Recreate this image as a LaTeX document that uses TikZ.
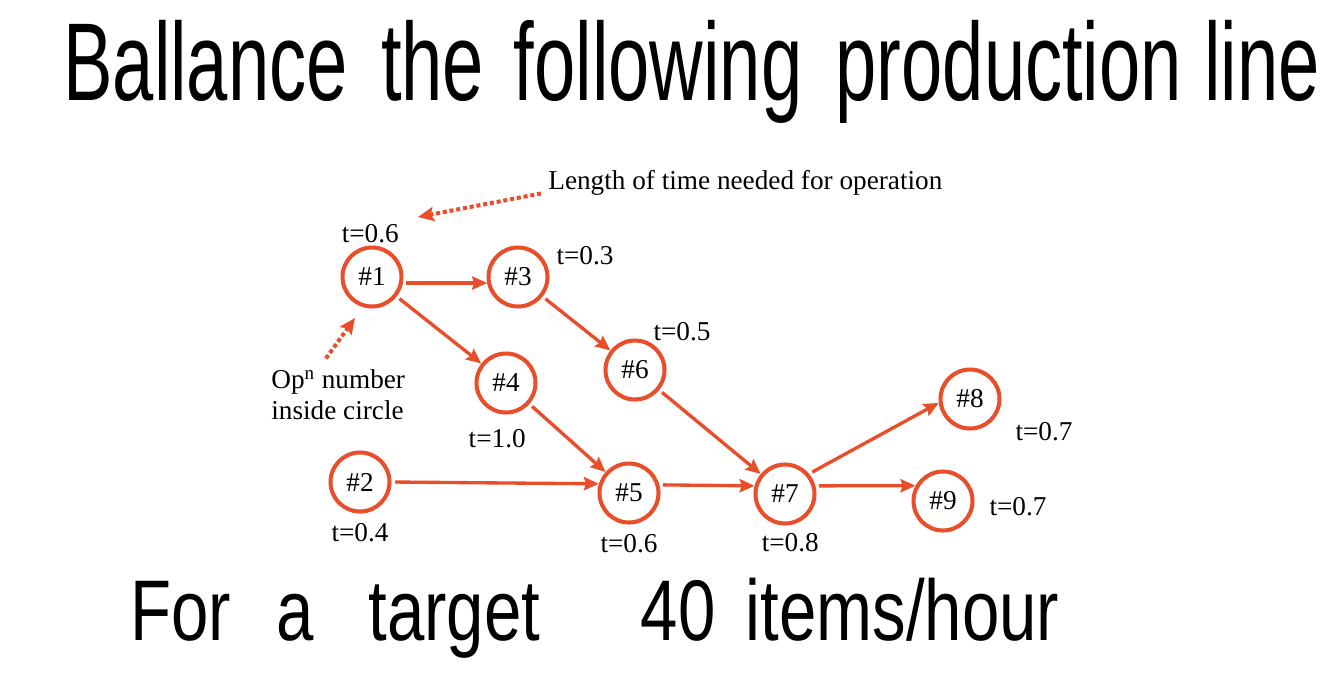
\documentclass[tikz,border=0pt]{standalone}
\usepackage{fontspec}
\setmainfont{Liberation Serif}
\newfontfamily\handfont{Liberation Sans}
\usetikzlibrary{arrows.meta,positioning}
\definecolor{opred}{RGB}{233,77,42}

\begin{document}
\begin{tikzpicture}[
    x=0.02cm, y=-0.02cm,
    op/.style={circle, draw=opred, line width=2.3pt, minimum size=1.18cm, inner sep=0pt, font=\fontsize{15.5}{18}\selectfont},
    tlabel/.style={inner sep=1pt, font=\fontsize{15.5}{18}\selectfont},
    flow/.style={draw=opred, line width=1.9pt, shorten <=2pt, -{Stealth[length=8.5pt, width=7.5pt, inset=1.2pt]}},
    hint/.style={draw=opred, line width=2.3pt, dash pattern=on 2.3pt off 1.6pt, -{Stealth[length=9pt, width=8pt, inset=1.5pt]}},
    hand/.style={inner sep=0pt, anchor=base west}
  ]
  \useasboundingbox (0,0) rectangle (1334,673);

  % handwritten heading and target
  \node[hand] (title) at (63,100) {\scalebox{0.67}[1]{\handfont\fontsize{63}{70}\selectfont Ballance\hspace{0.45em}the\hspace{0.4em}following\hspace{0.45em}production\hspace{0.3em}line}};
  \node[hand] (target) at (130,640) {\scalebox{0.78}[1]{\handfont\fontsize{49}{55}\selectfont For\hspace{0.67em}a\hspace{0.82em}target\hspace{1.5em}40\hspace{0.45em}items/hour}};

  % operations
  \node[op] (op1) at (372,277) {\#1};
  \node[op] (op3) at (518,277) {\#3};
  \node[op] (op4) at (506,383) {\#4};
  \node[op] (op6) at (635,370) {\#6};
  \node[op] (op2) at (360,482) {\#2};
  \node[op] (op5) at (629,493) {\#5};
  \node[op] (op7) at (785,494) {\#7};
  \node[op] (op8) at (970,399) {\#8};
  \node[op] (op9) at (943,501) {\#9};

  % times
  \node[tlabel, above=0pt of op1, xshift=-1pt] (t1) {t=0.6};
  \node[tlabel] (t3) at (585,256) {t=0.3};
  \node[tlabel] (t6) at (682,332) {t=0.5};
  \node[tlabel, below=7.4pt of op4, xshift=-5pt] (t4) {t=1.0};
  \node[tlabel, below=4.5pt of op2] (t2) {t=0.4};
  \node[tlabel, below=4.5pt of op5] (t5) {t=0.6};
  \node[tlabel, below=3.4pt of op7, xshift=3pt] (t7) {t=0.8};
  \node[tlabel] (t8) at (1044,432) {t=0.7};
  \node[tlabel] (t9) at (1018,507) {t=0.7};

  % notes
  \node[tlabel, anchor=base west, inner sep=0pt] (lenlbl) at (548,189) {Length of time needed for operation};
  \node[tlabel, anchor=north west, inner sep=0pt, align=left] (oplbl) at (271,369) {Op\textsuperscript{n} number\\inside circle};
  \coordinate (timetip) at (418,217);
  \coordinate (optip) at (355,318);

  \draw[hint] ([xshift=-4pt, yshift=1pt]lenlbl.south west) -- (timetip);
  \draw[hint] ([xshift=-7pt, yshift=6pt]oplbl.north) -- (optip);

  % precedence
  \draw[flow] (op1.-11) -- (op3.191);
  \draw[flow] (op1) -- (op4);
  \draw[flow] (op3) -- (op6);
  \draw[flow] (op4) -- (op5);
  \draw[flow] (op2.east) -- (op5.163);
  \draw[flow] (op6) -- (op7);
  \draw[flow] (op5.15) -- (op7.165);
  \draw[flow] (op7.40) -- (op8.187);
  \draw[flow] (op7.15) -- (op9.151);
\end{tikzpicture}
\end{document}
